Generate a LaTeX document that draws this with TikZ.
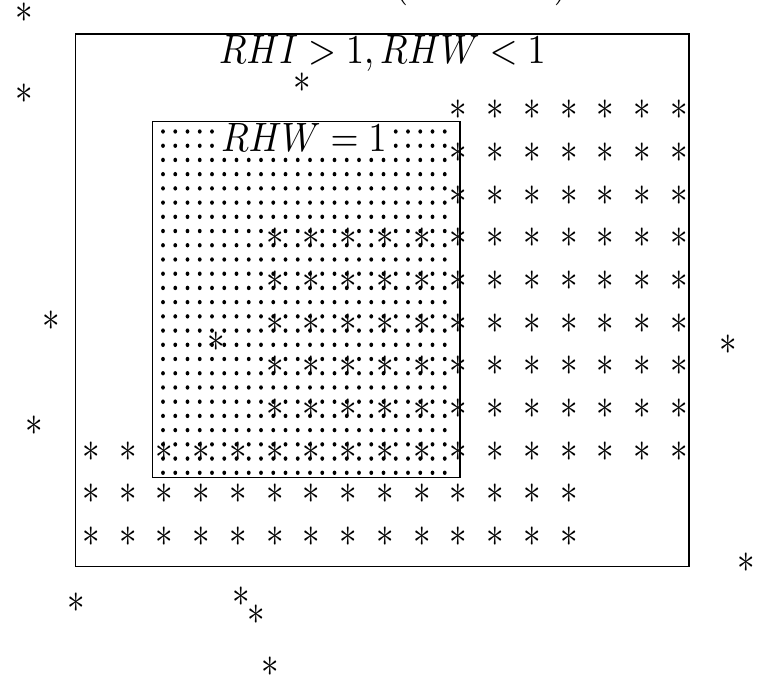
\documentclass[tikz,border=0pt]{standalone}
\usepackage{graphicx}
\newcommand{\bigast}{\scalebox{3.5}[4.2]{$\ast$}}
\newcommand{\biglbl}[1]{\scalebox{3.6}[4.1]{$#1$}}
\begin{document}
\begin{tikzpicture}[x=1pt,y=-1pt,
  star/.style={inner sep=0pt},
  lbl/.style={inner sep=1pt},
  box/.style={draw, line width=1.2pt},
  pt/.style={fill=black}]
\useasboundingbox (0,0) rectangle (765,682);
% title (cut off at top)
\node[lbl, anchor=base] (title) at (481,-4) {\biglbl{(\hspace{40.5pt})}};
% rectangles
\coordinate (o1) at (75.7,34);
\coordinate (o2) at (689,566.5);
\coordinate (i1) at (152.3,121.7);
\coordinate (i2) at (460,477.7);
% dots
\foreach \i in {0,...,24}{
  \foreach \j in {0,...,23}{
    \fill[pt] (163+12.25*\j, 131.5+14.22*\i) ellipse (1.9pt and 2.2pt);
  }
}
% labels
\node[lbl, anchor=base] (outerlbl) at (382.3,64) {\biglbl{RHI>1, RHW<1}};
\node[lbl, anchor=base, fill=white, inner sep=2pt] (innerlbl) at (304,151) {\biglbl{RHW=1}};
\draw[box] (o1) rectangle (o2);
\draw[box] (i1) rectangle (i2);
% grid of asterisks
\foreach \r in {0,...,7}{
  \foreach \k in {10,...,16}{
    \node[star] (g-\r-\k) at (91+36.75*\k, 110+42.67*\r) {\bigast};
  }
}
\foreach \r in {3,...,7}{
  \foreach \k in {5,...,9}{
    \node[star] (g-\r-\k) at (91+36.75*\k, 110+42.67*\r) {\bigast};
  }
}
\foreach \k in {0,...,16}{
  \node[star] (g-8-\k) at (91+36.75*\k, 110+42.67*8) {\bigast};
}
\foreach \r in {9,10}{
  \foreach \k in {0,...,13}{
    \node[star] (g-\r-\k) at (91+36.75*\k, 110+42.67*\r) {\bigast};
  }
}
% scattered asterisks
\node[star] (sa) at (24,13) {\bigast};
\node[star] (sb) at (24,94) {\bigast};
\node[star] (sc) at (302,83) {\bigast};
\node[star] (sd) at (51,320.5) {\bigast};
\node[star] (se) at (216,341.5) {\bigast};
\node[star] (sf) at (34,425.7) {\bigast};
\node[star] (sg) at (728,345) {\bigast};
\node[star] (sh) at (746.5,563) {\bigast};
\node[star] (si) at (76,603) {\bigast};
\node[star] (sj) at (241,597) {\bigast};
\node[star] (sk) at (256,615) {\bigast};
\node[star] (sl) at (270,667) {\bigast};
\end{tikzpicture}
\end{document}
